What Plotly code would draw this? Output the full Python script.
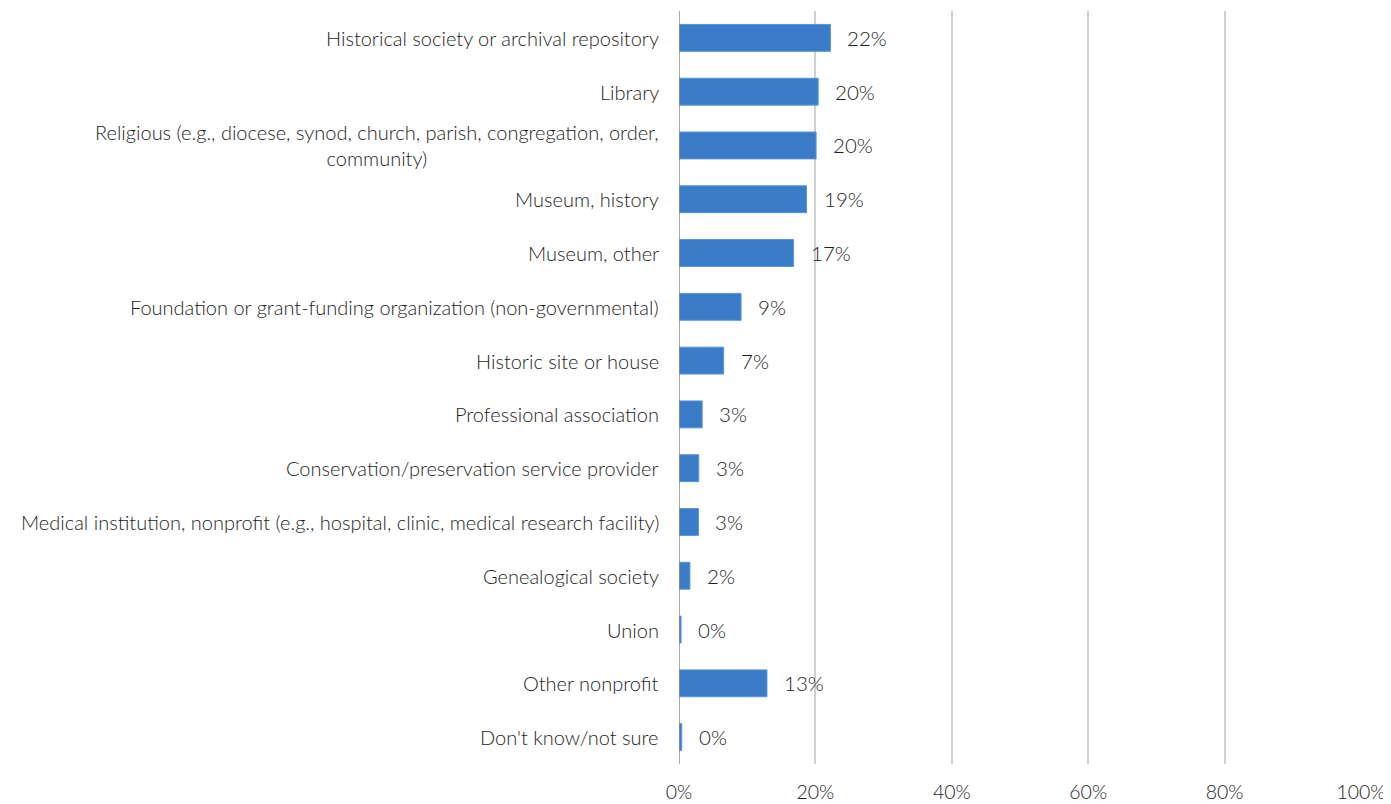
import plotly.graph_objects as go

categories = [
    "Historical society or archival repository",
    "Library",
    "Religious (e.g., diocese, synod, church, parish, congregation, order,<br>community)",
    "Museum, history",
    "Museum, other",
    "Foundation or grant-funding organization (non-governmental)",
    "Historic site or house",
    "Professional association",
    "Conservation/preservation service provider",
    "Medical institution, nonprofit (e.g., hospital, clinic, medical research facility)",
    "Genealogical society",
    "Union",
    "Other nonprofit",
    "Don't know/not sure",
]
values = [22.2, 20.4, 20.1, 18.7, 16.8, 9.1, 6.55, 3.4, 2.9, 2.85, 1.6, 0.3, 12.9, 0.4]
labels = ["22%", "20%", "20%", "19%", "17%", "9%", "7%", "3%", "3%", "3%", "2%", "0%", "13%", "0%"]
tick_vals = [0, 20, 40, 60, 80, 100]
tick_text = ["0%", "20%", "40%", "60%", "80%", "100%"]

FONT = "Lato"
TXT = "#1e1e1e"

fig = go.Figure()
fig.add_trace(go.Bar(
    x=values, y=list(range(len(categories))), orientation="h",
    marker=dict(color="#3A7CC8", line=dict(color="#5B95D8", width=1)),
    hoverinfo="skip",
))

annotations = []
for i, (c, v, l) in enumerate(zip(categories, values, labels)):
    annotations.append(dict(
        x=0, y=i, xref="x", yref="y", text=c, showarrow=False,
        xanchor="right", yanchor="middle", align="center", xshift=-18,
        font=dict(family=FONT, size=20, color=TXT, weight=300),
    ))
    annotations.append(dict(
        x=v, y=i, xref="x", yref="y", text=l, showarrow=False,
        xanchor="left", yanchor="middle", xshift=15,
        font=dict(family=FONT, size=20.5, color=TXT, weight=300),
    ))

fig.update_layout(
    width=1383, height=796,
    margin=dict(l=671, r=30, t=3, b=40),
    paper_bgcolor="white", plot_bgcolor="white",
    showlegend=False, bargap=0.5,
    annotations=annotations,
    xaxis=dict(range=[0, 100], tickvals=tick_vals, ticktext=tick_text,
               showgrid=True, gridcolor="#D0D0D0", gridwidth=1.5,
               zeroline=False, showline=False, ticks="",
               tickfont=dict(family=FONT, size=19.5, color=TXT, weight=300),
               ticklabelstandoff=14, automargin=False),
    yaxis=dict(range=[len(categories) - 0.5, -0.5], showticklabels=False,
               showgrid=False, zeroline=False, ticks="",
               showline=False, automargin=False),
    shapes=[dict(type="line", xref="x", yref="paper", x0=0, x1=0, y0=0, y1=1,
                 line=dict(color="#8C8C8C", width=1.5))],
)

fig.write_html("out.html")
